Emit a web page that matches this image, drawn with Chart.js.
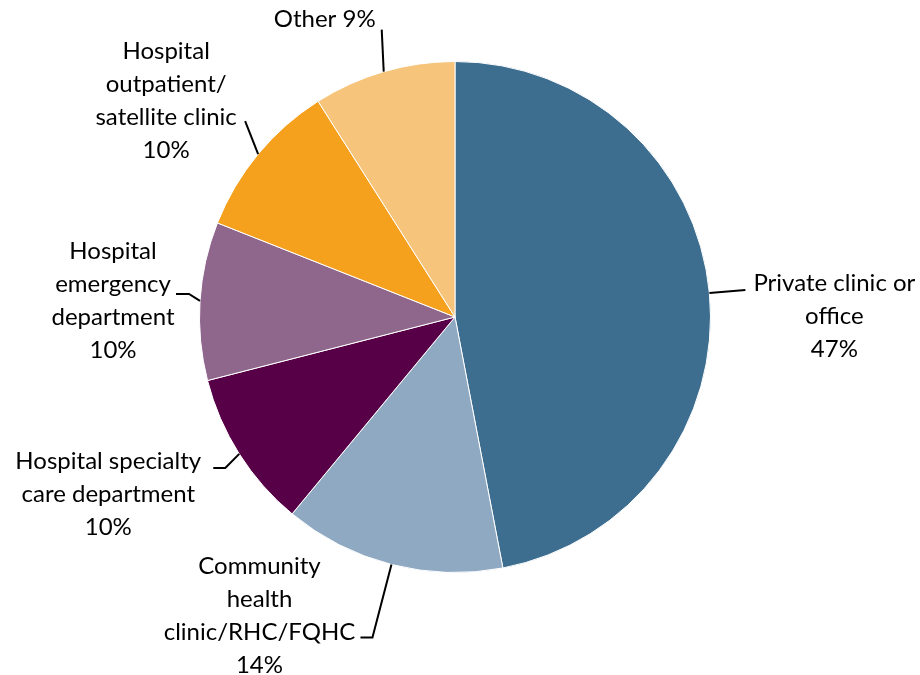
<!DOCTYPE html>
<html>
<head>
<meta charset="utf-8">
<script src="https://cdn.jsdelivr.net/npm/chart.js@4/dist/chart.umd.min.js"></script>
<style>
  html, body { margin: 0; padding: 0; background: #fff; }
  #wrap { width: 920px; height: 675px; }
</style>
</head>
<body>
<div id="wrap"><canvas id="pieChart" width="920" height="675"></canvas></div>
<script>
const categories = [
  ['Private clinic or', 'office'],
  ['Community', 'health', 'clinic/RHC/FQHC'],
  ['Hospital specialty', 'care department'],
  ['Hospital', 'emergency', 'department'],
  ['Hospital', 'outpatient/', 'satellite clinic'],
  ['Other'],
];
const shares = [47, 14, 10, 10, 10, 9];
const colors = ['#3e6e8f', '#8fa9c2', '#570047', '#8f668c', '#f5a11e', '#f6c47a'];

// label placement relative to the slice's edge point: leader path + text centre
const labelLayout = [
  { path: [[36, -3]], text: [125, -10] },
  { path: [[-19, 73], [-31, 73]], text: [-132, 2] },
  { path: [[-14, 14], [-26, 14]], text: [-131, 7] },
  { path: [[-11, -7], [-24, -7]], text: [-87, -50] },
  { path: [[-13, -33]], text: [-92, -103] },
  { path: [[-2, -42]], text: [-59, -52] },
];
const lineHeight = 33;

const leaderLabels = {
  id: 'leaderLabels',
  afterDraw(chart) {
    const ctx = chart.ctx;
    const meta = chart.getDatasetMeta(0);
    ctx.save();
    ctx.font = '24px Lato';
    ctx.fillStyle = '#000';
    ctx.strokeStyle = '#000';
    ctx.lineWidth = 2;
    ctx.textAlign = 'center';
    ctx.textBaseline = 'middle';
    meta.data.forEach((arc, i) => {
      const p = arc.getProps(['x', 'y', 'startAngle', 'endAngle', 'outerRadius'], true);
      const mid = (p.startAngle + p.endAngle) / 2;
      const ex = p.x + Math.cos(mid) * p.outerRadius;
      const ey = p.y + Math.sin(mid) * p.outerRadius;
      const lay = labelLayout[i];
      ctx.beginPath();
      ctx.moveTo(ex, ey);
      lay.path.forEach(([dx, dy]) => ctx.lineTo(ex + dx, ey + dy));
      ctx.stroke();
      const lines = categories[i].length === 1
        ? [`${categories[i][0]} ${shares[i]}%`]
        : [...categories[i], `${shares[i]}%`];
      lines.forEach((t, k) => {
        ctx.fillText(t, ex + lay.text[0], ey + lay.text[1] + k * lineHeight);
      });
    });
    ctx.restore();
  },
};

new Chart(document.getElementById('pieChart'), {
  type: 'pie',
  data: {
    labels: categories.map((c) => c.join(' ')),
    datasets: [
      {
        data: shares,
        backgroundColor: colors,
        borderColor: '#fff',
        borderWidth: 1,
      },
    ],
  },
  options: {
    responsive: false,
    animation: false,
    layout: { padding: { left: 199, right: 209, top: 61, bottom: 102 } },
    plugins: { legend: { display: false }, tooltip: { enabled: false } },
  },
  plugins: [leaderLabels],
});
</script>
</body>
</html>
